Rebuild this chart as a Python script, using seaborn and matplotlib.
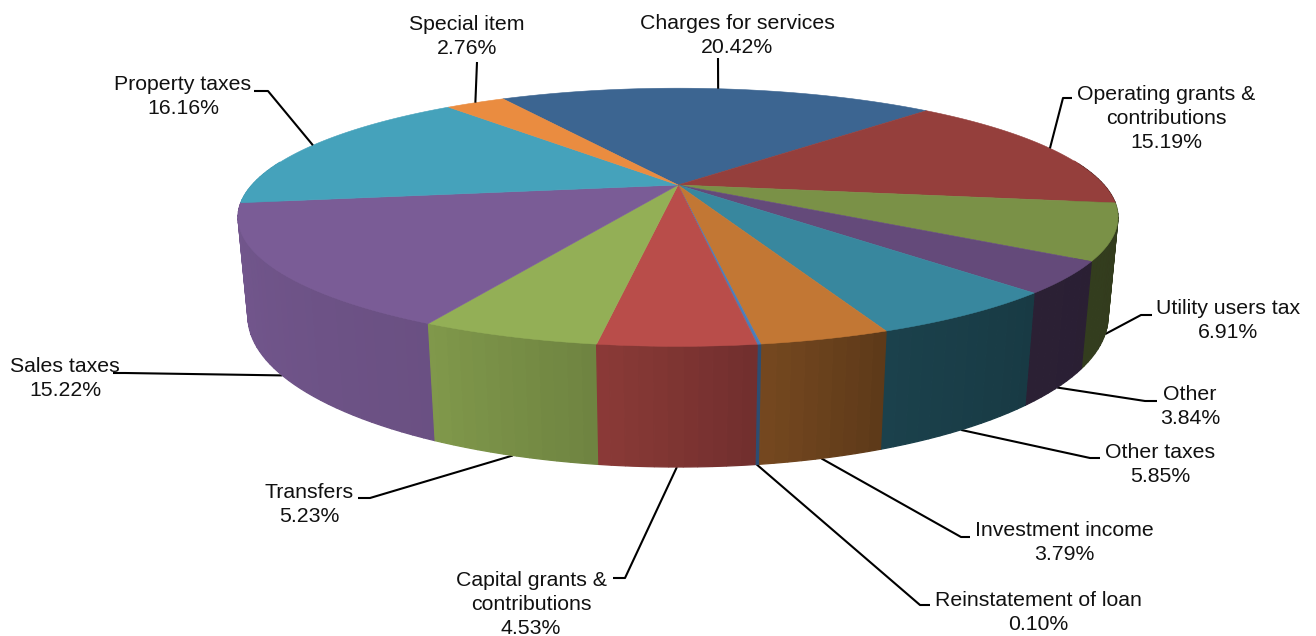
import numpy as np
import matplotlib
matplotlib.use("Agg")
import matplotlib.pyplot as plt
import seaborn as sns

# Revenue sources, clockwise from the start of the first slice
categories = ["Charges for services", "Operating grants &\ncontributions", "Utility users tax",
              "Other", "Other taxes", "Investment income", "Reinstatement of loan",
              "Capital grants &\ncontributions", "Transfers", "Sales taxes",
              "Property taxes", "Special item"]
shares = [20.42, 15.19, 6.91, 3.84, 5.85, 3.79, 0.10, 4.53, 5.23, 15.22, 16.16, 2.76]
slice_colors = ["#3C6591", "#953F3C", "#7A9147", "#644A7A", "#38879E", "#C27734",
                "#4A7EBB", "#B94D4A", "#93AF56", "#7A5C96", "#45A2BB", "#EA8C40"]

sns.set_theme(style="white")
plt.rcParams["font.family"] = ["Liberation Sans", "DejaVu Sans"]
palette = sns.color_palette(slice_colors)

# Perspective camera for the disc
CX, CY = 678.0, 185.0
A, B, K = 426.0, 121.0, 0.25
DEPTH_W, DEPTH_Y = 0.0216, 96.6


def project(theta_deg, drop=0.0):
    """Screen position of a rim point; theta runs clockwise from the back, drop=1 is the bottom rim."""
    t = np.radians(theta_deg)
    u, v = np.sin(t), -np.cos(t)
    w = 1 - K * v + DEPTH_W * drop
    return CX + A * u / w, CY + (B * v + DEPTH_Y * drop) / w


START = -30.0
edges = START + 3.6 * np.concatenate([[0], np.cumsum(shares)])
mids = (edges[:-1] + edges[1:]) / 2

# Brightness of the side wall against the angle, lit from the left
shade_theta = [85, 98, 123, 137, 158, 172, 188, 207, 262, 280]
shade_value = [0.40, 0.41, 0.42, 0.43, 0.48, 0.61, 0.75, 0.87, 0.95, 0.96]

fig = plt.figure(figsize=(13.16, 6.36), dpi=100)
ax = fig.add_axes([0, 0, 1, 1])
ax.set_xlim(0, 1316)
ax.set_ylim(636, 0)
ax.axis("off")

# Side wall, painted in narrow strips from back to front
strips = []
for i, color in enumerate(palette):
    lo, hi = edges[i], edges[i + 1]
    bounds = np.append(np.arange(lo, hi, 1.5), hi)
    for a, b in zip(bounds[:-1], bounds[1:]):
        strips.append((a, b, color))
strips.sort(key=lambda s: -np.cos(np.radians((s[0] + s[1]) / 2)))
for a, b, color in strips:
    mid = (a + b) / 2
    if np.cos(np.radians(mid)) > 0.2:
        continue
    factor = np.interp(((mid - 80) % 360) + 80, shade_theta, shade_value)
    shaded = tuple(c * factor for c in color)
    thetas = np.linspace(a, b, 3)
    top = [project(t) for t in thetas]
    bottom = [project(t, 1) for t in thetas[::-1]]
    xs, ys = zip(*(top + bottom))
    ax.fill(xs, ys, color=shaded, lw=0.9, zorder=2)

# Top face
for i, color in enumerate(palette):
    thetas = np.linspace(edges[i], edges[i + 1], max(3, int((edges[i + 1] - edges[i]) * 2)))
    rim = [project(t) for t in thetas]
    xs, ys = zip(*([(CX, CY)] + rim))
    ax.fill(xs, ys, color=color, lw=0.4, zorder=3)

# Label block centre, elbow of the leader, and which rim the leader lands on
label_layout = [
    ((737, 35.5), [(718, 58)], 0),
    ((1166, 118.5), [(1063, 98), (1072, 98)], 0),
    ((1228, 320.5), [(1141, 315), (1152, 315)], 1),
    ((1190, 406.5), [(1145, 401), (1157, 401)], 1),
    ((1160, 464.5), [(1090, 458), (1100, 458)], 1),
    ((1064, 542.5), [(961, 537), (970, 537)], 1),
    ((1038, 612.5), [(920, 605), (930, 605)], 1),
    ((531, 604.5), [(625, 578), (613, 578)], 1),
    ((309, 504.5), [(370, 498), (358, 498)], 1),
    ((65, 378.5), [(125, 373), (113, 373)], 1),
    ((183, 96.5), [(268, 91), (254, 91)], 0),
    ((467, 36.5), [(477, 62)], 0),
]
for name, share, mid, (center, elbow, drop) in zip(categories, shares, mids, label_layout):
    anchor = project(mid, drop)
    xs, ys = zip(*([anchor] + elbow))
    ax.plot(xs, ys, color="black", lw=1.5, zorder=1 if drop else 4, solid_capstyle="butt")
    ax.text(center[0], center[1], f"{name}\n{share:.2f}%", ha="center", va="center",
            fontsize=15.3, color="#111111", linespacing=1.33, zorder=5)

fig.savefig("out.png", dpi=100)
